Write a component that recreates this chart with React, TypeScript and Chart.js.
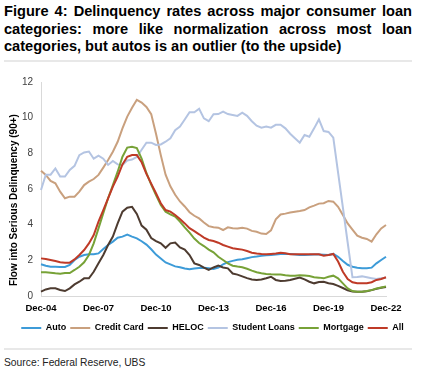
import React, { useEffect, useRef } from "react";
import { Chart, registerables } from "chart.js";

Chart.register(...registerables);

// Quarterly categories Dec-04 .. Dec-22
const monthNames = ["Mar", "Jun", "Sep", "Dec"];
const quarters: string[] = [];
for (let i = 0; i < 73; i++) {
  const q = (3 + i) % 4;
  const yr = 2004 + Math.floor((3 + i) / 4);
  quarters.push(`${monthNames[q]}-${String(yr % 100).padStart(2, "0")}`);
}

const tickLabels = ["Dec-04", "Dec-07", "Dec-10", "Dec-13", "Dec-16", "Dec-19", "Dec-22"];

const auto = [
  1.78, 1.7, 1.64, 1.64, 1.63, 1.63, 1.74, 2.02, 2.2, 2.3,
  2.34, 2.34, 2.39, 2.64, 2.86, 3.05, 3.27, 3.33, 3.44, 3.33,
  3.23, 3.07, 2.88, 2.62, 2.32, 2.1, 1.88, 1.77, 1.66, 1.61,
  1.54, 1.5, 1.54, 1.57, 1.59, 1.56, 1.52, 1.6, 1.78, 1.9,
  1.97, 2.03, 2.06, 2.12, 2.18, 2.21, 2.25, 2.28, 2.3, 2.33,
  2.35, 2.36, 2.35, 2.33, 2.3, 2.3, 2.31, 2.33, 2.33, 2.32,
  2.3, 2.36, 2.2, 1.96, 1.75, 1.64, 1.59, 1.55, 1.55, 1.59,
  1.83, 2.02, 2.2,
];

const creditCard = [
  7.03, 6.79, 6.45, 6.32, 5.85, 5.48, 5.57, 5.57, 5.85, 6.22,
  6.41, 6.56, 6.79, 7.2, 7.63, 8.09, 8.65, 9.4, 10.06, 10.55,
  11.0, 10.85, 10.6, 10.2, 9.1, 7.9, 6.8, 6.15, 5.68, 5.3,
  5.02, 4.7, 4.5, 4.35, 4.12, 3.92, 3.85, 3.83, 3.7, 3.85,
  3.8, 3.78, 3.83, 3.78, 3.65, 3.6, 3.5, 3.48, 3.68, 4.3,
  4.57, 4.62, 4.68, 4.73, 4.77, 4.82, 4.97, 5.07, 5.18, 5.2,
  5.33, 5.29, 5.0, 4.54, 4.07, 3.72, 3.38, 3.27, 3.2, 3.05,
  3.46, 3.79, 3.98,
];

const heloc = [
  0.24, 0.37, 0.43, 0.43, 0.34, 0.28, 0.43, 0.65, 0.8, 0.99,
  0.99, 1.36, 1.83, 2.3, 2.86, 3.33, 4.07, 4.73, 4.95, 5.0,
  4.6, 3.95, 3.72, 3.25, 3.08, 2.95, 2.7, 2.95, 3.0, 2.72,
  2.6, 2.3, 1.83, 1.74, 1.59, 1.46, 1.6, 1.7, 1.6, 1.55,
  1.26, 1.2, 1.1, 1.0, 0.93, 0.9, 0.93, 1.0, 1.08, 0.9,
  0.84, 0.86, 0.9, 0.97, 1.03, 0.93, 0.8, 0.71, 0.78, 0.8,
  0.72, 0.67, 0.57, 0.45, 0.32, 0.25, 0.24, 0.24, 0.27, 0.33,
  0.4, 0.46, 0.5,
];

const studentLoans = [
  5.94, 6.8, 6.8, 7.15, 6.7, 6.7, 7.07, 7.3, 7.9, 8.05,
  8.1, 7.7, 7.87, 7.7, 7.35, 7.57, 7.38, 7.35, 7.6, 7.65,
  7.8, 8.2, 8.6, 8.6, 8.47, 8.5, 8.65, 8.84, 9.3, 9.5,
  9.9, 10.3, 10.3, 10.5, 9.96, 9.8, 10.19, 10.2, 10.34, 10.2,
  10.15, 10.1, 10.28, 10.1, 9.8, 9.55, 9.44, 9.5, 9.44, 9.6,
  9.6, 9.4, 9.1, 8.85, 8.6, 9.03, 8.93, 9.4, 9.9, 9.25,
  9.2, 8.88, 6.92, 4.97, 3.0, 1.05, 1.07, 1.1, 1.05, 1.0,
  0.95, 1.0, 1.03,
];

const mortgage = [
  1.33, 1.33, 1.31, 1.27, 1.25, 1.29, 1.29, 1.46, 1.64, 1.89,
  2.3, 2.95, 3.79, 4.64, 5.48, 6.22, 6.97, 7.81, 8.32, 8.37,
  8.3, 7.7, 6.9, 6.25, 5.66, 5.1, 4.73, 4.58, 4.45, 4.17,
  3.85, 3.55, 3.22, 2.97, 2.8, 2.6, 2.45, 2.2, 2.02, 1.83,
  1.7, 1.65, 1.61, 1.53, 1.42, 1.33, 1.28, 1.24, 1.22, 1.21,
  1.21, 1.17, 1.14, 1.14, 1.17, 1.15, 1.12, 1.05, 1.03, 0.99,
  1.08, 1.14, 0.99, 0.71, 0.43, 0.28, 0.24, 0.24, 0.28, 0.33,
  0.42, 0.48, 0.54,
];

const all = [
  2.11, 2.07, 2.02, 1.96, 1.89, 1.87, 1.87, 2.05, 2.3, 2.58,
  2.95, 3.42, 4.17, 4.82, 5.48, 6.13, 6.69, 7.38, 7.81, 7.9,
  7.9, 7.5, 6.85, 6.3, 5.76, 5.2, 4.82, 4.73, 4.54, 4.32,
  4.07, 3.8, 3.64, 3.46, 3.27, 3.14, 3.08, 2.99, 2.86, 2.77,
  2.68, 2.64, 2.6, 2.52, 2.43, 2.38, 2.35, 2.34, 2.36, 2.38,
  2.42, 2.4, 2.34, 2.34, 2.34, 2.34, 2.34, 2.34, 2.34, 2.26,
  2.3, 2.36, 1.93, 1.36, 0.95, 0.77, 0.71, 0.71, 0.71, 0.77,
  0.9, 0.95, 1.05,
];

const seriesNames = ["Auto", "Credit Card", "HELOC", "Student Loans", "Mortgage", "All"];
const seriesValues = [auto, creditCard, heloc, studentLoans, mortgage, all];
const seriesColors = ["#3D9BD8", "#C9A07E", "#4D3B30", "#B4C4E2", "#77A237", "#BF3A27"];

const FONT = "'Liberation Sans', Arial, sans-serif";

export default function App() {
  const ref = useRef<HTMLCanvasElement>(null);

  useEffect(() => {
    const canvas = ref.current;
    if (!canvas) return;
    const chart = new Chart(canvas, {
      type: "line",
      data: {
        labels: quarters,
        datasets: seriesNames.map((name, k) => ({
          label: name,
          data: seriesValues[k],
          borderColor: seriesColors[k],
          backgroundColor: seriesColors[k],
          borderWidth: 2,
          pointRadius: 0,
          pointHoverRadius: 0,
          tension: 0,
          fill: false,
          order: seriesNames.length - k,
        })),
      },
      options: {
        animation: false,
        responsive: false,
        devicePixelRatio: 1,
        events: [],
        layout: { padding: { top: 16, left: 0, right: 0, bottom: 3.5 } },
        plugins: {
          legend: {
            position: "bottom",
            labels: {
              boxWidth: 20,
              boxHeight: 2,
              padding: 4,
              color: "#000",
              font: { family: FONT, size: 9, weight: "bold" },
              generateLabels: (c: any) =>
                c.data.datasets.map((d: any, i: number) => ({
                  text: d.label,
                  fillStyle: d.borderColor,
                  strokeStyle: d.borderColor,
                  lineWidth: 0,
                  hidden: false,
                  datasetIndex: i,
                  fontColor: "#000",
                })),
            },
          },
          tooltip: { enabled: false },
        },
        scales: {
          x: {
            type: "category",
            offset: false,
            grid: { display: false, drawTicks: false },
            border: { display: true, color: "#D9D9D9", width: 1 },
            ticks: {
              autoSkip: false,
              maxRotation: 0,
              minRotation: 0,
              padding: 7,
              color: "#000",
              font: { family: FONT, size: 9.5, weight: "bold" },
              callback: (_v: any, i: number) =>
                tickLabels.includes(quarters[i]) ? quarters[i] : "",
            },
            afterFit: (s: any) => {
              s.height = 23.5;
            },
          },
          y: {
            min: 0,
            max: 12,
            grid: { display: false, drawTicks: false },
            border: { display: true, color: "#D9D9D9", width: 1 },
            ticks: {
              stepSize: 2,
              padding: 8,
              color: "#404040",
              font: { family: FONT, size: 10 },
            },
            title: {
              display: true,
              text: "Flow into Serious Delinquency (90+)        ",
              color: "#000",
              font: { family: FONT, size: 10, weight: "bold" },
              padding: { top: 8, bottom: 0 },
            },
            afterFit: (s: any) => {
              s.width = 41;
            },
          },
          yR: {
            position: "right",
            display: true,
            grid: { display: false, drawTicks: false },
            border: { display: false },
            ticks: { display: false },
            afterFit: (s: any) => {
              s.width = 39;
            },
          },
        },
      } as any,
    });
    return () => chart.destroy();
  }, []);

  const titleLine: React.CSSProperties = {
    textAlign: "justify",
    textAlignLast: "justify" as any,
    whiteSpace: "nowrap",
    height: 17.5,
  };

  return (
    <div
      style={{
        position: "absolute",
        left: 0,
        top: 0,
        width: 425,
        height: 377,
        background: "#fff",
        overflow: "hidden",
      }}
    >
      <div
        style={{
          position: "absolute",
          left: 4,
          top: 3,
          width: 408,
          fontFamily: FONT,
          fontWeight: "bold",
          fontSize: 14.6,
          lineHeight: "17.5px",
          color: "#000",
        }}
      >
        <div style={titleLine}>Figure 4: Delinquency rates across major consumer loan</div>
        <div style={titleLine}>categories: more like normalization across most loan</div>
        <div style={{ whiteSpace: "nowrap", height: 17.5 }}>
          categories, but autos is an outlier (to the upside)
        </div>
      </div>
      <div
        style={{
          position: "absolute",
          left: 4,
          top: 60,
          width: 408,
          height: 2,
          background: "#E8E8E8",
        }}
      />
      <canvas
        ref={ref}
        width={425}
        height={280}
        style={{ position: "absolute", left: 0, top: 66, width: 425, height: 280, display: "block" }}
      />
      <div
        style={{
          position: "absolute",
          left: 4,
          top: 348,
          width: 408,
          height: 2,
          background: "#E8E8E8",
        }}
      />
      <div
        style={{
          position: "absolute",
          left: 4,
          top: 356,
          fontFamily: FONT,
          fontSize: 10.3,
          lineHeight: "14px",
          color: "#222",
          whiteSpace: "nowrap",
        }}
      >
        Source: Federal Reserve, UBS
      </div>
    </div>
  );
}
